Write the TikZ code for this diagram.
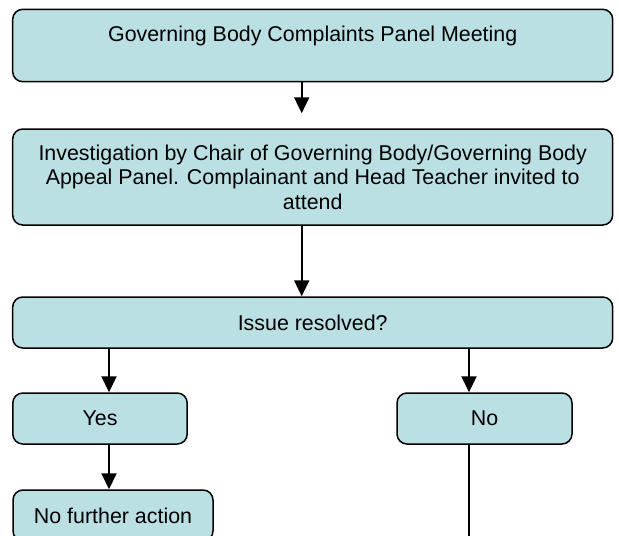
\documentclass[tikz,border=0pt]{standalone}
\usepackage{fontspec}
\setmainfont{Liberation Sans}
\usepackage{xcolor}
\usepackage{tikz}
\usetikzlibrary{arrows.meta}
\definecolor{boxfill}{RGB}{186,224,227}

\begin{document}
\begin{tikzpicture}[x=0.5pt,y=-0.5pt,
                box/.style={draw=black, line width=0.75pt, fill=boxfill, rounded corners=5pt,
                    inner sep=0pt, align=center, font=\fontsize{10.7}{12.2}\selectfont},
                arr/.style={-{Triangle[width=7.5pt,length=8pt]}, line width=1pt}]
                \useasboundingbox (0,0) rectangle (619,535);
                \node[box, minimum width=300pt, minimum height=36.2pt] (meeting) at (312.7,45.5) {Governing Body Complaints Panel Meeting\\\mbox{}};
                \node[box, minimum width=300pt, minimum height=48pt] (investigation) at (312.7,177) {Investigation by Chair of Governing Body/Governing Body\\Appeal Panel. Complainant and Head Teacher invited to\\attend};
                \node[box, minimum width=300pt, minimum height=25.5pt] (resolved) at (312.7,322.5) {Issue resolved?};
                \node[box, minimum width=87.2pt, minimum height=25.5pt] (yes) at (100,418.5) {Yes};
                \node[box, minimum width=87.5pt, minimum height=25.5pt] (no) at (484.5,418.5) {No};
                \node[box, minimum width=100pt, minimum height=25.5pt] (nofurther) at (113,515.5) {No further action};
                \coordinate (noout) at (469,560);
                \draw[arr, shorten >=7.5pt] ([xshift=-5.5pt]meeting.south) -- ([xshift=-5.5pt]investigation.north);
                \draw[arr] ([xshift=-5.5pt]investigation.south) -- ([xshift=-5.5pt]resolved.north);
                \draw[arr] ([xshift=4.5pt]yes.north |- resolved.south) -- ([xshift=4.5pt]yes.north);
                \draw[arr] ([xshift=-7.75pt]no.north |- resolved.south) -- ([xshift=-7.75pt]no.north);
                \draw[arr] ([xshift=4.5pt]yes.south) -- ([xshift=4.5pt]yes.south |- nofurther.north);
                \draw[line width=1pt] (no.south -| noout) -- (noout);
            \end{tikzpicture}
\end{document}
